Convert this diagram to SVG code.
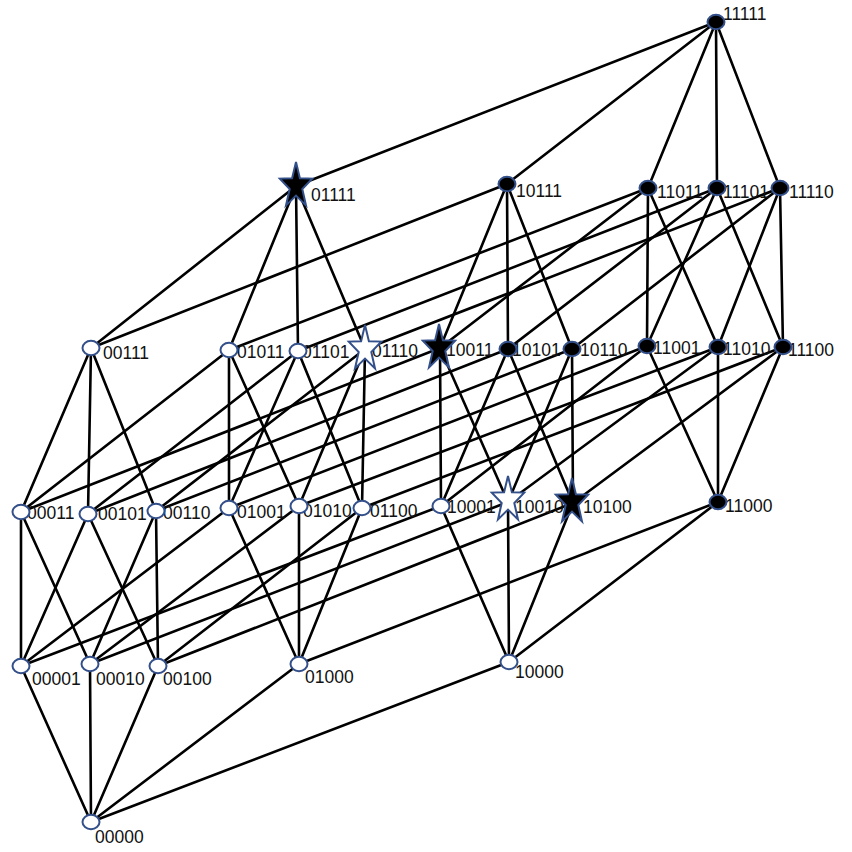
<svg xmlns="http://www.w3.org/2000/svg" xmlns:xlink="http://www.w3.org/1999/xlink" width="852" height="852" viewBox="0 0 852 852">
<style>
.e line{stroke:#000;stroke-width:2.6;stroke-linecap:round}
.o{fill:#fff;stroke:#34508a;stroke-width:2}
.f{fill:#000;stroke:#34508a;stroke-width:2}
text{font-family:"Liberation Sans",Arial,sans-serif;font-size:17.5px;fill:#111}
</style>
<defs>
<path id="star" d="M0,-24 L3.9,-7.77 L16.2,-7.42 L6.3,2.97 L10,19.42 L0,9.6 L-10,19.42 L-6.3,2.97 L-16.2,-7.42 L-3.9,-7.77 Z"/>
</defs>
<rect width="852" height="852" fill="#fff"/>
<g id="connectors" class="e">
<line x1="91" y1="822" x2="21" y2="666"/>
<line x1="91" y1="822" x2="90" y2="664"/>
<line x1="91" y1="822" x2="158" y2="666"/>
<line x1="91" y1="822" x2="299" y2="664"/>
<line x1="91" y1="822" x2="509" y2="662"/>
<line x1="21" y1="666" x2="21" y2="512"/>
<line x1="21" y1="666" x2="88" y2="514"/>
<line x1="21" y1="666" x2="229" y2="508"/>
<line x1="21" y1="666" x2="441" y2="506"/>
<line x1="90" y1="664" x2="21" y2="512"/>
<line x1="90" y1="664" x2="156" y2="511"/>
<line x1="90" y1="664" x2="299" y2="506"/>
<line x1="90" y1="664" x2="508" y2="502"/>
<line x1="158" y1="666" x2="88" y2="514"/>
<line x1="158" y1="666" x2="156" y2="511"/>
<line x1="158" y1="666" x2="362" y2="508"/>
<line x1="158" y1="666" x2="573" y2="503"/>
<line x1="299" y1="664" x2="229" y2="508"/>
<line x1="299" y1="664" x2="299" y2="506"/>
<line x1="299" y1="664" x2="362" y2="508"/>
<line x1="299" y1="664" x2="718" y2="502"/>
<line x1="509" y1="662" x2="441" y2="506"/>
<line x1="509" y1="662" x2="508" y2="502"/>
<line x1="509" y1="662" x2="573" y2="503"/>
<line x1="509" y1="662" x2="718" y2="502"/>
<line x1="21" y1="512" x2="91" y2="348"/>
<line x1="21" y1="512" x2="229" y2="350"/>
<line x1="21" y1="512" x2="440" y2="348"/>
<line x1="88" y1="514" x2="91" y2="348"/>
<line x1="88" y1="514" x2="298" y2="351"/>
<line x1="88" y1="514" x2="508" y2="349"/>
<line x1="156" y1="511" x2="91" y2="348"/>
<line x1="156" y1="511" x2="365" y2="349"/>
<line x1="156" y1="511" x2="572" y2="349"/>
<line x1="229" y1="508" x2="229" y2="350"/>
<line x1="229" y1="508" x2="298" y2="351"/>
<line x1="229" y1="508" x2="647" y2="346"/>
<line x1="299" y1="506" x2="229" y2="350"/>
<line x1="299" y1="506" x2="365" y2="349"/>
<line x1="299" y1="506" x2="718" y2="347"/>
<line x1="362" y1="508" x2="298" y2="351"/>
<line x1="362" y1="508" x2="365" y2="349"/>
<line x1="362" y1="508" x2="783" y2="347"/>
<line x1="441" y1="506" x2="440" y2="348"/>
<line x1="441" y1="506" x2="508" y2="349"/>
<line x1="441" y1="506" x2="647" y2="346"/>
<line x1="508" y1="502" x2="440" y2="348"/>
<line x1="508" y1="502" x2="572" y2="349"/>
<line x1="508" y1="502" x2="718" y2="347"/>
<line x1="573" y1="503" x2="508" y2="349"/>
<line x1="573" y1="503" x2="572" y2="349"/>
<line x1="573" y1="503" x2="783" y2="347"/>
<line x1="718" y1="502" x2="647" y2="346"/>
<line x1="718" y1="502" x2="718" y2="347"/>
<line x1="718" y1="502" x2="783" y2="347"/>
<line x1="91" y1="348" x2="296" y2="186"/>
<line x1="91" y1="348" x2="507" y2="184"/>
<line x1="229" y1="350" x2="296" y2="186"/>
<line x1="229" y1="350" x2="648" y2="188"/>
<line x1="298" y1="351" x2="296" y2="186"/>
<line x1="298" y1="351" x2="717" y2="188"/>
<line x1="365" y1="349" x2="296" y2="186"/>
<line x1="365" y1="349" x2="780" y2="188"/>
<line x1="440" y1="348" x2="507" y2="184"/>
<line x1="440" y1="348" x2="648" y2="188"/>
<line x1="508" y1="349" x2="507" y2="184"/>
<line x1="508" y1="349" x2="717" y2="188"/>
<line x1="572" y1="349" x2="507" y2="184"/>
<line x1="572" y1="349" x2="780" y2="188"/>
<line x1="647" y1="346" x2="648" y2="188"/>
<line x1="647" y1="346" x2="717" y2="188"/>
<line x1="718" y1="347" x2="648" y2="188"/>
<line x1="718" y1="347" x2="780" y2="188"/>
<line x1="783" y1="347" x2="717" y2="188"/>
<line x1="783" y1="347" x2="780" y2="188"/>
<line x1="296" y1="186" x2="716" y2="22"/>
<line x1="507" y1="184" x2="716" y2="22"/>
<line x1="648" y1="188" x2="716" y2="22"/>
<line x1="717" y1="188" x2="716" y2="22"/>
<line x1="780" y1="188" x2="716" y2="22"/>
</g>
<g id="nodes">
<g id="n00000"><text x="95" y="843">00000</text><ellipse class="o" cx="91" cy="822" rx="8.5" ry="7.2"/></g>
<g id="n00001"><text x="32" y="685">00001</text><ellipse class="o" cx="21" cy="666" rx="8.5" ry="7.2"/></g>
<g id="n00010"><text x="96" y="685">00010</text><ellipse class="o" cx="90" cy="664" rx="8.5" ry="7.2"/></g>
<g id="n00100"><text x="163" y="685">00100</text><ellipse class="o" cx="158" cy="666" rx="8.5" ry="7.2"/></g>
<g id="n01000"><text x="305" y="683">01000</text><ellipse class="o" cx="299" cy="664" rx="8.5" ry="7.2"/></g>
<g id="n10000"><text x="515" y="678">10000</text><ellipse class="o" cx="509" cy="662" rx="8.5" ry="7.2"/></g>
<g id="n00011"><text x="27" y="519">00011</text><ellipse class="o" cx="21" cy="512" rx="8.5" ry="7.2"/></g>
<g id="n00101"><text x="98" y="520">00101</text><ellipse class="o" cx="88" cy="514" rx="8.5" ry="7.2"/></g>
<g id="n00110"><text x="163" y="519">00110</text><ellipse class="o" cx="156" cy="511" rx="8.5" ry="7.2"/></g>
<g id="n01001"><text x="237" y="518">01001</text><ellipse class="o" cx="229" cy="508" rx="8.5" ry="7.2"/></g>
<g id="n01010"><text x="303" y="517">01010</text><ellipse class="o" cx="299" cy="506" rx="8.5" ry="7.2"/></g>
<g id="n01100"><text x="370" y="517">01100</text><ellipse class="o" cx="362" cy="508" rx="8.5" ry="7.2"/></g>
<g id="n10001"><text x="447" y="513">10001</text><ellipse class="o" cx="441" cy="506" rx="8.5" ry="7.2"/></g>
<g id="n10010"><text x="515" y="513">10010</text><use href="#star" class="o" transform="translate(508,500)"/></g>
<g id="n10100"><text x="583" y="513">10100</text><use href="#star" class="f" transform="translate(572,502)"/></g>
<g id="n11000"><text x="725" y="512">11000</text><ellipse class="f" cx="718" cy="502" rx="8.5" ry="7.2"/></g>
<g id="n00111"><text x="103" y="359">00111</text><ellipse class="o" cx="91" cy="348" rx="8.5" ry="7.2"/></g>
<g id="n01011"><text x="237" y="358">01011</text><ellipse class="o" cx="229" cy="350" rx="8.5" ry="7.2"/></g>
<g id="n01101"><text x="302" y="358">01101</text><ellipse class="o" cx="298" cy="351" rx="8.5" ry="7.2"/></g>
<g id="n01110"><text x="372" y="357">01110</text><use href="#star" class="o" transform="translate(365,349)"/></g>
<g id="n10011"><text x="446" y="356">10011</text><use href="#star" class="f" transform="translate(439,348)"/></g>
<g id="n10101"><text x="512" y="356">10101</text><ellipse class="f" cx="508" cy="349" rx="8.5" ry="7.2"/></g>
<g id="n10110"><text x="580" y="356">10110</text><ellipse class="f" cx="572" cy="349" rx="8.5" ry="7.2"/></g>
<g id="n11001"><text x="653" y="354">11001</text><ellipse class="f" cx="647" cy="346" rx="8.5" ry="7.2"/></g>
<g id="n11010"><text x="723" y="355">11010</text><ellipse class="f" cx="718" cy="347" rx="8.5" ry="7.2"/></g>
<g id="n11100"><text x="788" y="356">11100</text><ellipse class="f" cx="783" cy="347" rx="8.5" ry="7.2"/></g>
<g id="n01111"><text x="311" y="201">01111</text><use href="#star" class="f" transform="translate(296,186)"/></g>
<g id="n10111"><text x="516" y="197">10111</text><ellipse class="f" cx="507" cy="184" rx="8.5" ry="7.2"/></g>
<g id="n11011"><text x="657" y="198">11011</text><ellipse class="f" cx="648" cy="188" rx="8.5" ry="7.2"/></g>
<g id="n11101"><text x="723" y="198">11101</text><ellipse class="f" cx="717" cy="188" rx="8.5" ry="7.2"/></g>
<g id="n11110"><text x="789" y="198">11110</text><ellipse class="f" cx="780" cy="188" rx="8.5" ry="7.2"/></g>
<g id="n11111"><text x="723" y="20">11111</text><ellipse class="f" cx="716" cy="22" rx="8.5" ry="7.2"/></g>
</g>
</svg>
